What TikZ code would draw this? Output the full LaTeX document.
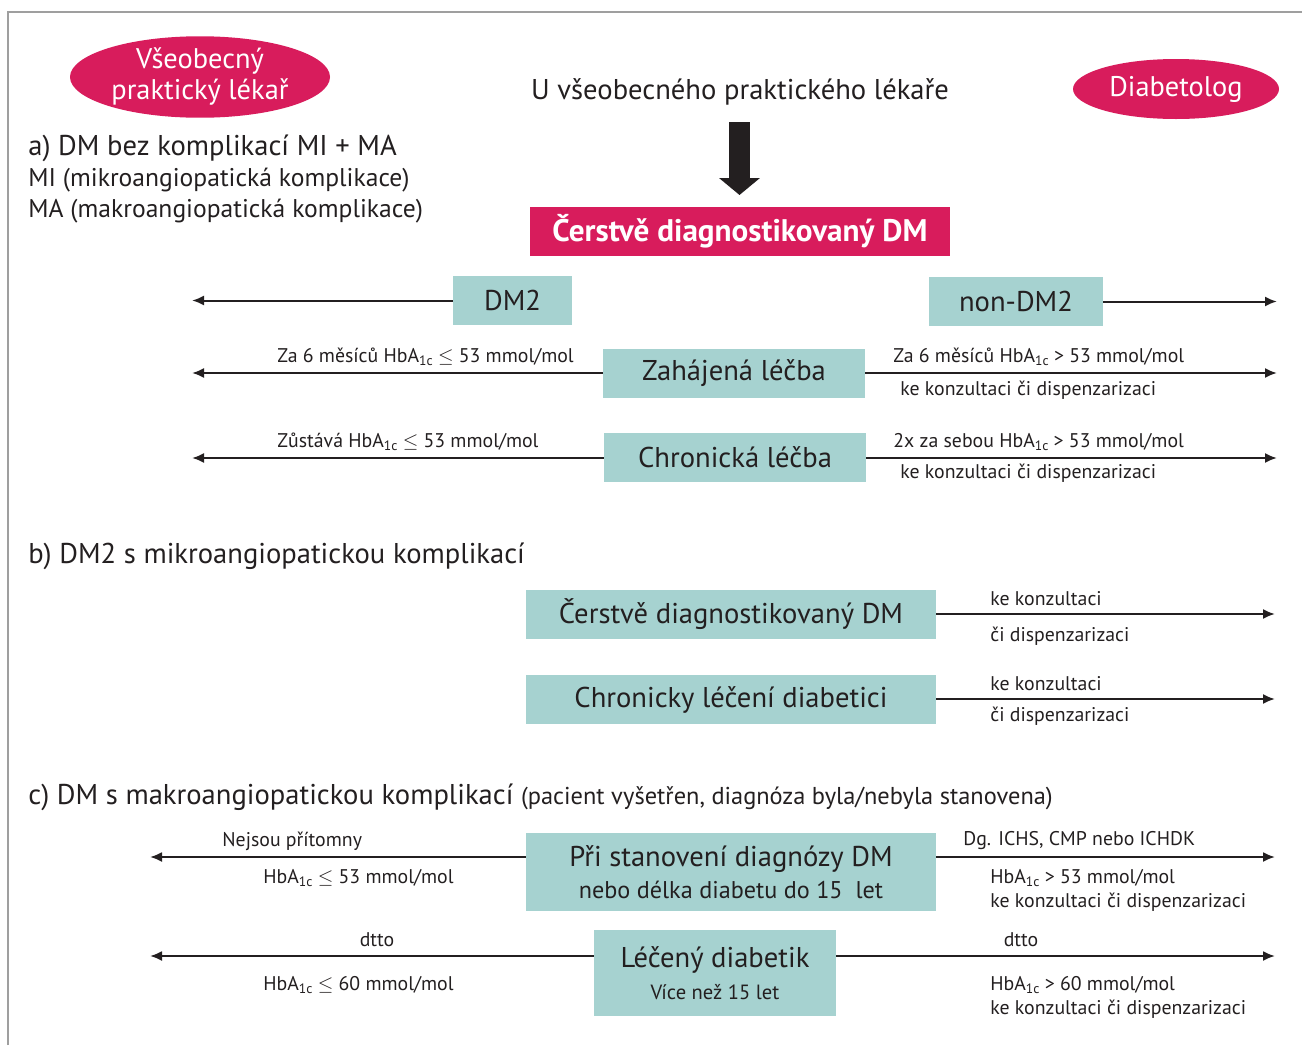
\documentclass[tikz,border=0pt]{standalone}
\usepackage{fontspec}
\setmainfont{PT Sans}
\usepackage{tikz}
\usetikzlibrary{positioning,arrows.meta,shapes.geometric}
\definecolor{crimson}{RGB}{216,28,92}
\definecolor{tealbg}{RGB}{166,210,208}
\definecolor{ink}{RGB}{35,31,32}
\tikzset{redoval/.style={ellipse, fill=crimson, text=white, inner sep=0pt, align=center, font=\fontsize{14.2}{15.5}\selectfont}}
\tikzset{redbox/.style={fill=crimson, text=white, inner sep=0pt, font=\bfseries\fontsize{15.6}{16}\selectfont}}
\tikzset{tealbox/.style={fill=tealbg, text=ink, inner sep=0pt, align=center, font=\fontsize{14.3}{16}\selectfont}}
\tikzset{head/.style={text=ink, inner sep=0pt, anchor=west, font=\fontsize{14.3}{15}\selectfont}}
\tikzset{sub/.style={text=ink, inner sep=0pt, anchor=west, font=\fontsize{12.8}{13}\selectfont}}
\tikzset{lbl/.style={text=ink, inner sep=0pt, anchor=west, font=\fontsize{9.9}{11}\selectfont}}
\tikzset{arr/.style={draw=ink, line width=1pt, -{Latex[length=6pt,width=5pt]}}}
\tikzset{bigarr/.style={draw=ink, line width=10.5pt, -{Triangle[length=8.5pt,width=20pt]}}}
\newcommand{\hba}{HbA\raisebox{-0.25ex}{\fontsize{6.8}{7}\selectfont 1c}}
\begin{document}
\begin{tikzpicture}[x=0.5pt,y=-0.5pt]
\useasboundingbox (0,0) rectangle (1302,1045);
% frame
\draw[gray!75, line width=0.6pt] (8,1045) -- (8,12) -- (1302,12);

% top
\node[redoval, minimum width=130pt, minimum height=39pt] (gp) at (200,77) {Všeobecný\\praktický lékař};
\node[redoval, minimum width=103pt, minimum height=30pt] (diab) at (1176,89) {Diabetolog};
\node[head, anchor=center] (utext) at (740,92) {U všeobecného praktického lékaře};
\coordinate (bigtop) at (739.5,122);
\coordinate (bigtip) at (739.5,195);
\draw[bigarr] (bigtop) -- (bigtip);
\node[redbox, minimum width=210pt, minimum height=24.5pt] (fresh) at (740,231.5) {Čerstvě diagnostikovaný DM};

% a)
\node[head] (heada) at (28,148) {a) DM bez komplikací MI + MA};
\node[sub] (mi) at (28,180) {MI (mikroangiopatická komplikace)};
\node[sub] (ma) at (28,211) {MA (makroangiopatická komplikace)};

\node[tealbox, minimum width=59.5pt, minimum height=24.5pt] (dmtwo) at (512.5,300.5) {DM2};
\node[tealbox, minimum width=87pt, minimum height=24.5pt] (nondm) at (1016,301.5) {non-DM2};
\node[tealbox, minimum width=131pt, minimum height=24.5pt] (zah) at (734,373.5) {Zahájená léčba};
\node[tealbox, minimum width=131pt, minimum height=24.5pt] (chron) at (735,457.5) {Chronická léčba};

\coordinate (dmtwoL) at (192,300.5);
\coordinate (nondmR) at (1277,301.5);
\coordinate (zahL) at (192,373);
\coordinate (zahR) at (1277,373);
\coordinate (chronL) at (192,458);
\coordinate (chronR) at (1277,458);
\draw[arr] (dmtwo.west) -- (dmtwoL);
\draw[arr] (nondm.east) -- (nondmR);
\draw[arr] (zah.west |- zahL) -- (zahL);
\draw[arr] (zah.east |- zahR) -- (zahR);
\draw[arr] (chron.west |- chronL) -- (chronL);
\draw[arr] (chron.east |- chronR) -- (chronR);

\node[lbl] (zahtxtL) at (277,357) {Za 6 měsíců \hba{} $\leq$ 53 mmol/mol};
\node[lbl] (zahtxtR) at (893,357) {Za 6 měsíců \hba{} > 53 mmol/mol};
\node[lbl] (zahkons) at (900,390) {ke konzultaci či dispenzarizaci};
\node[lbl] (chrtxtL) at (277,442) {Zůstává \hba{} $\leq$ 53 mmol/mol};
\node[lbl] (chrtxtR) at (893,442) {2x za sebou \hba{} > 53 mmol/mol};
\node[lbl] (chrkons) at (900,473) {ke konzultaci či dispenzarizaci};

% b)
\node[head] (headb) at (28,556) {b) DM2 s mikroangiopatickou komplikací};
\node[tealbox, minimum width=205pt, minimum height=24.5pt] (bfresh) at (731,614.5) {Čerstvě diagnostikovaný DM};
\node[tealbox, minimum width=205pt, minimum height=24.5pt] (bchron) at (731,699.5) {Chronicky léčení diabetici};
\coordinate (bfreshR) at (1275,614);
\coordinate (bchronR) at (1275,699);
\draw[arr] (bfresh.east |- bfreshR) -- (bfreshR);
\draw[arr] (bchron.east |- bchronR) -- (bchronR);
\node[lbl] (bk1) at (990,599) {ke konzultaci};
\node[lbl] (bd1) at (990,636) {či dispenzarizaci};
\node[lbl] (bk2) at (990,684) {ke konzultaci};
\node[lbl] (bd2) at (990,716) {či dispenzarizaci};

% c)
\node[head] (headc) at (28,797) {c) DM s makroangiopatickou komplikací {\fontsize{12.2}{13}\selectfont (pacient vyšetřen, diagnóza byla/nebyla stanovena)}};
\node[tealbox, minimum width=205pt, minimum height=39pt] (cdiag) at (731,872)
  {\fontsize{14.3}{15.5}\selectfont Při stanovení diagnózy DM\\\fontsize{12.1}{15.5}\selectfont nebo délka diabetu do 15\ \ let};
\node[tealbox, minimum width=121pt, minimum height=43pt] (ctreat) at (715,973)
  {\fontsize{14.3}{16.5}\selectfont Léčený diabetik\\\fontsize{10.3}{16.5}\selectfont Více než 15 let};
\coordinate (cdiagL) at (150,857);
\coordinate (cdiagR) at (1275,857);
\coordinate (ctreatL) at (150,956);
\coordinate (ctreatR) at (1275,956);
\draw[arr] (cdiag.west |- cdiagL) -- (cdiagL);
\draw[arr] (cdiag.east |- cdiagR) -- (cdiagR);
\draw[arr] (ctreat.west |- ctreatL) -- (ctreatL);
\draw[arr] (ctreat.east |- ctreatR) -- (ctreatR);

\node[lbl] (nejsou) at (222,841) {Nejsou přítomny};
\node[lbl] (chL1) at (263,878) {\hba{} $\leq$ 53 mmol/mol};
\node[lbl] (dg) at (963,841) {Dg. ICHS, CMP nebo ICHDK};
\node[lbl] (chR1) at (990,878) {\hba{} > 53 mmol/mol};
\node[lbl] (ckons1) at (990,902) {ke konzultaci či dispenzarizaci};
\node[lbl, anchor=center] (dttoL) at (377,940) {dtto};
\node[lbl] (chL2) at (263,985) {\hba{} $\leq$ 60 mmol/mol};
\node[lbl, anchor=center] (dttoR) at (1021,940) {dtto};
\node[lbl] (chR2) at (990,985) {\hba{} > 60 mmol/mol};
\node[lbl] (ckons2) at (990,1009) {ke konzultaci či dispenzarizaci};
\end{tikzpicture}
\end{document}
